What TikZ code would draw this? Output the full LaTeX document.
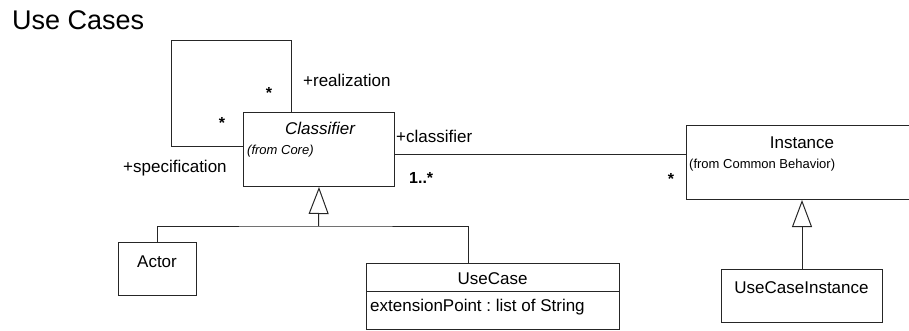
\documentclass[tikz,border=0pt]{standalone}
\usepackage{fontspec}
\setmainfont{Liberation Sans}
\usetikzlibrary{arrows.meta}
\frenchspacing

\tikzset{
  umlbox/.style={draw=black!85, line width=1pt, fill=white, rectangle, inner sep=0pt, anchor=north west},
  link/.style={draw=black!85, line width=1pt},
  gen/.style={link, -{Triangle[open, length=27pt, width=20pt, line width=1pt]}},
  txt/.style={inner sep=0pt, font=\fontsize{17}{20}\selectfont},
  mult/.style={inner sep=0pt, font=\fontsize{16}{19}\selectfont\bfseries},
  small/.style={inner sep=0pt, font=\fontsize{13}{15}\selectfont},
  headline/.style={inner sep=0pt, font=\fontsize{27}{30}\selectfont},
}

\begin{document}
\begin{tikzpicture}[x=1pt, y=-1pt]
\useasboundingbox (0,0) rectangle (909,331);
\clip (0,0) rectangle (909,331);

\node[headline, anchor=base west] (title) at (12,30) {Use Cases};

% classes
\node[umlbox, minimum width=151pt, minimum height=74pt] (cls) at (243,112) {};
\node[txt, anchor=base] (clsname) at (320,135) {\itshape Classifier};
\node[small, anchor=base west] (clsfrom) at (247,154) {\itshape (from Core)};

\node[umlbox, minimum width=240pt, minimum height=74pt] (inst) at (686,125) {};
\node[txt, anchor=base] (instname) at (802,149) {Instance};
\node[small, anchor=base west] (instfrom) at (689,168) {(from Common Behavior)};

\node[umlbox, minimum width=78pt, minimum height=53pt] (actor) at (118,242) {};
\node[txt, anchor=base] (actorname) at (157,267) {Actor};

\node[umlbox, minimum width=253pt, minimum height=66pt] (uc) at (366,263) {};
\coordinate (ucsep) at (366,291);
\draw[link] (ucsep) -- (ucsep -| uc.east);
\node[txt, anchor=base] (ucname) at (492.5,284) {UseCase};
\node[txt, anchor=base west] (ucattr) at (370,311) {extensionPoint : list of String};

\node[umlbox, minimum width=161pt, minimum height=53pt] (uci) at (721,269) {};
\node[txt, anchor=base] (uciname) at (801.5,293) {UseCaseInstance};

% self association realization / specification
\coordinate (lt) at (291,41);
\coordinate (lb) at (171,147);
\draw[link] (lt |- cls.north) -- (lt) -| (lb) -- (lb -| cls.west);
\node[txt, anchor=base west] (real) at (303,87) {+realization};
\node[mult, anchor=center] (realm) at (269,93) {*};
\node[mult, anchor=center] (specm) at (222,123) {*};
\node[txt, anchor=base west] (spec) at (123,172) {+specification};

% classifier -- instance association
\coordinate (assoc) at (540,155);
\draw[link] (cls.east |- assoc) -- (inst.west |- assoc);
\node[txt, anchor=base west] (clsrole) at (396,143) {+classifier};
\node[mult, anchor=base west] (clsmult) at (409,183) {1..*};
\node[mult, anchor=center] (instmult) at (671,179) {*};

% generalizations
\coordinate (bus) at (318.5,226);
\coordinate (ucx) at (468,226);
\draw[link] (actor.north) |- (bus) -- (ucx) -- (ucx |- uc.north);
\draw[gen] (bus) -- (cls.south);
\draw[gen] (uci.north) -- (uci.north |- inst.south);
\end{tikzpicture}
\end{document}
